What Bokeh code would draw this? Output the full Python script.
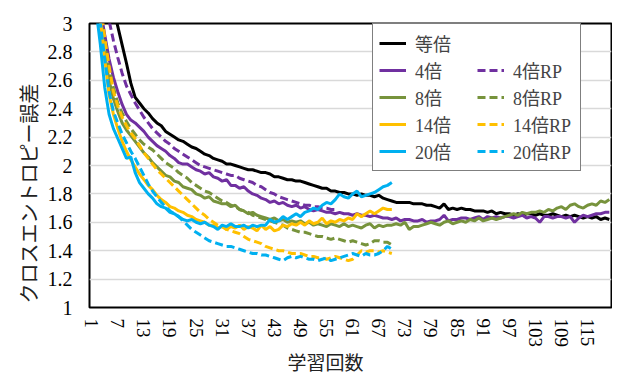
from bokeh.plotting import figure
from bokeh.models import Range1d, FixedTicker, CustomJSTickFormatter, Legend, LegendItem, Title
from bokeh.embed import file_html
from bokeh.resources import INLINE

# ---------------- data ----------------
x_tick_labels = [1, 7, 13, 19, 25, 31, 37, 43, 49, 55, 61, 67, 73, 79, 85, 91, 97, 103, 109, 115]
y_tick_labels = ["1", "1.2", "1.4", "1.6", "1.8", "2", "2.2", "2.4", "2.6", "2.8", "3"]

series_names = ["等倍", "4倍", "8倍", "14倍", "20倍", "4倍RP", "8倍RP", "14倍RP", "20倍RP"]

base_1x = [4.6, 4.1, 3.75, 3.45, 3.25, 3.1, 2.98, 2.85, 2.72, 2.58,
           2.48, 2.44, 2.40, 2.37, 2.33, 2.30, 2.28, 2.24, 2.22, 2.20,
           2.18, 2.17, 2.15, 2.13, 2.12, 2.10, 2.08, 2.07, 2.05, 2.04,
           2.03, 2.01, 2.01, 2.00, 1.99, 1.98, 1.97, 1.97, 1.96, 1.95,
           1.95, 1.94, 1.92, 1.92, 1.91, 1.90, 1.90, 1.89, 1.89, 1.88,
           1.87, 1.86, 1.85, 1.84, 1.84, 1.82, 1.82, 1.81, 1.81, 1.80,
           1.80, 1.79, 1.80, 1.79, 1.79, 1.78, 1.79, 1.77, 1.76, 1.75,
           1.74, 1.74, 1.74, 1.74, 1.73, 1.73, 1.73, 1.72, 1.72, 1.71,
           1.70, 1.73, 1.69, 1.70, 1.69, 1.70, 1.69, 1.69, 1.68, 1.68,
           1.68, 1.67, 1.68, 1.66, 1.67, 1.66, 1.66, 1.65, 1.66, 1.65,
           1.66, 1.66, 1.65, 1.66, 1.65, 1.65, 1.66, 1.65, 1.64, 1.65,
           1.64, 1.65, 1.64, 1.63, 1.64, 1.63, 1.64, 1.62, 1.63, 1.62]

up_4x = [3.9, 3.4, 3.1, 2.92, 2.75, 2.62, 2.52, 2.43, 2.36, 2.32,
         2.30, 2.27, 2.24, 2.20, 2.17, 2.14, 2.12, 2.10, 2.07, 2.05,
         2.02, 2.01, 2.01, 1.99, 1.97, 1.96, 1.94, 1.95, 1.92, 1.91,
         1.89, 1.90, 1.86, 1.86, 1.84, 1.85, 1.82, 1.80, 1.79, 1.77,
         1.76, 1.74, 1.75, 1.73, 1.74, 1.72, 1.71, 1.72, 1.70, 1.71,
         1.69, 1.68, 1.69, 1.68, 1.67, 1.67, 1.66, 1.67, 1.66, 1.66,
         1.65, 1.66, 1.65, 1.65, 1.64, 1.65, 1.64, 1.63, 1.63, 1.62,
         1.63, 1.61, 1.62, 1.62, 1.61, 1.61, 1.62, 1.60, 1.61, 1.61,
         1.62, 1.65, 1.61, 1.62, 1.62, 1.63, 1.63, 1.62, 1.63, 1.64,
         1.62, 1.64, 1.63, 1.64, 1.63, 1.64, 1.64, 1.63, 1.64, 1.65,
         1.63, 1.64, 1.63, 1.60, 1.64, 1.64, 1.63, 1.64, 1.64, 1.63,
         1.64, 1.60, 1.63, 1.65, 1.64, 1.65, 1.66, 1.66, 1.67, 1.67]

up_8x = [3.8, 3.3, 3.0, 2.78, 2.6, 2.47, 2.38, 2.30, 2.25, 2.21,
         2.17, 2.13, 2.09, 2.06, 2.02, 1.99, 1.96, 1.93, 1.92, 1.89,
         1.88, 1.85, 1.84, 1.83, 1.80, 1.79, 1.77, 1.78, 1.75, 1.74,
         1.73, 1.73, 1.71, 1.72, 1.69, 1.68, 1.66, 1.67, 1.65, 1.64,
         1.63, 1.62, 1.63, 1.61, 1.62, 1.60, 1.61, 1.60, 1.61, 1.59,
         1.60, 1.58, 1.59, 1.58, 1.57, 1.59, 1.58, 1.57, 1.59, 1.57,
         1.58, 1.57, 1.56, 1.58, 1.59, 1.56, 1.58, 1.57, 1.58, 1.58,
         1.59, 1.58, 1.60, 1.55, 1.57, 1.57, 1.58, 1.59, 1.60, 1.59,
         1.58, 1.60, 1.61, 1.59, 1.60, 1.61, 1.60, 1.62, 1.61, 1.63,
         1.61, 1.62, 1.63, 1.62, 1.63, 1.64, 1.65, 1.66, 1.65, 1.67,
         1.66, 1.67, 1.67, 1.68, 1.67, 1.69, 1.68, 1.70, 1.71, 1.69,
         1.72, 1.73, 1.71, 1.70, 1.72, 1.73, 1.72, 1.75, 1.74, 1.76]

up_14x = [3.6, 3.2, 3.03, 2.75, 2.5, 2.36, 2.26, 2.17, 2.10, 2.04,
          1.99, 1.94, 1.90, 1.86, 1.83, 1.79, 1.76, 1.74, 1.71, 1.70,
          1.68, 1.67, 1.65, 1.64, 1.62, 1.61, 1.60, 1.58, 1.58, 1.56,
          1.57, 1.55, 1.57, 1.56, 1.58, 1.55, 1.57, 1.56, 1.54, 1.58,
          1.55, 1.57, 1.54, 1.55, 1.58, 1.57, 1.59, 1.58, 1.60, 1.58,
          1.61, 1.59, 1.60, 1.63, 1.59, 1.61, 1.60, 1.62, 1.61, 1.63,
          1.62, 1.66, 1.64, 1.66, 1.68, 1.66, 1.68, 1.70, 1.69, 1.69]

up_20x = [3.5, 3.1, 2.85, 2.55, 2.36, 2.26, 2.19, 2.12, 2.05, 2.06,
          1.95, 1.88, 1.84, 1.80, 1.77, 1.73, 1.71, 1.70, 1.67, 1.66,
          1.64, 1.62, 1.61, 1.62, 1.60, 1.59, 1.60, 1.58, 1.57, 1.55,
          1.58, 1.57, 1.59, 1.57, 1.57, 1.58, 1.56, 1.58, 1.57, 1.58,
          1.58, 1.62, 1.60, 1.61, 1.64, 1.62, 1.64, 1.66, 1.64, 1.67,
          1.68, 1.70, 1.69, 1.72, 1.74, 1.73, 1.76, 1.80, 1.78, 1.77,
          1.80, 1.82, 1.78, 1.79, 1.80, 1.81, 1.83, 1.85, 1.86, 1.88]

rp_4x = [4.1, 3.7, 3.35, 3.12, 3.02, 2.88, 2.76, 2.65, 2.56, 2.50,
         2.44, 2.39, 2.34, 2.30, 2.26, 2.23, 2.20, 2.17, 2.15, 2.12,
         2.10, 2.08, 2.06, 2.04, 2.02, 2.00, 1.99, 1.98, 1.97, 1.96,
         1.95, 1.94, 1.93, 1.93, 1.91, 1.90, 1.89, 1.88, 1.86, 1.85,
         1.83, 1.81, 1.80, 1.78, 1.77, 1.76, 1.75, 1.74, 1.73, 1.72,
         1.72, 1.71, 1.71, 1.70, 1.70, 1.69, 1.69]

rp_8x = [3.9, 3.4, 3.05, 2.85, 2.68, 2.55, 2.44, 2.37, 2.31, 2.26,
         2.22, 2.18, 2.15, 2.13, 2.11, 2.08, 2.05, 2.02, 2.00, 1.98,
         1.95, 1.93, 1.91, 1.88, 1.86, 1.84, 1.82, 1.81, 1.79, 1.77,
         1.75, 1.74, 1.72, 1.71, 1.69, 1.68, 1.67, 1.65, 1.64, 1.63,
         1.62, 1.61, 1.60, 1.59, 1.58, 1.56, 1.55, 1.54, 1.53, 1.53,
         1.52, 1.51, 1.50, 1.50, 1.49, 1.48, 1.49, 1.48, 1.47, 1.46,
         1.47, 1.46, 1.45, 1.44, 1.45, 1.47, 1.47, 1.46, 1.46, 1.44]

rp_14x = [3.8, 3.4, 3.15, 2.9, 2.7, 2.52, 2.42, 2.34, 2.28, 2.23,
          2.19, 2.14, 2.09, 2.05, 2.01, 1.97, 1.94, 1.91, 1.88, 1.85,
          1.82, 1.79, 1.76, 1.73, 1.70, 1.67, 1.65, 1.62, 1.60, 1.58,
          1.57, 1.55, 1.54, 1.53, 1.52, 1.50, 1.48, 1.47, 1.46, 1.45,
          1.43, 1.42, 1.41, 1.40, 1.40, 1.39, 1.38, 1.38, 1.38, 1.37,
          1.36, 1.36, 1.35, 1.35, 1.34, 1.35, 1.36, 1.35, 1.34, 1.33,
          1.34, 1.37, 1.40, 1.39, 1.40, 1.40, 1.39, 1.40, 1.39, 1.38]

rp_20x = [3.7, 3.3, 3.0, 2.75, 2.52, 2.38, 2.30, 2.22, 2.16, 2.10,
          2.05, 1.99, 1.93, 1.87, 1.82, 1.78, 1.74, 1.71, 1.68, 1.66,
          1.64, 1.61, 1.58, 1.55, 1.53, 1.51, 1.49, 1.47, 1.46, 1.45,
          1.44, 1.43, 1.43, 1.42, 1.41, 1.40, 1.39, 1.38, 1.38, 1.37,
          1.37, 1.36, 1.35, 1.34, 1.33, 1.35, 1.36, 1.35, 1.36, 1.35,
          1.34, 1.34, 1.33, 1.34, 1.35, 1.33, 1.34, 1.35, 1.36, 1.37,
          1.38, 1.37, 1.36, 1.38, 1.37, 1.37, 1.38, 1.40, 1.43, 1.41]

# ---------------- styling ----------------
SERIF = "'Liberation Serif', 'Noto Sans CJK JP'"
COL_BLACK = "#000000"
COL_PURPLE = "#7030A0"
COL_GREEN = "#77933C"
COL_YELLOW = "#FFC000"
COL_CYAN = "#00B0F0"
LW = 3
DASH = "8 4"

p = figure(width=612, height=373, output_backend="svg", toolbar_location=None,
           x_range=Range1d(0.5, 120.5), y_range=Range1d(1, 3),
           min_border_left=89, min_border_right=1, min_border_top=23, min_border_bottom=61)

p.background_fill_color = "white"
p.border_fill_color = "white"
p.outline_line_color = "black"
p.outline_line_width = 2

p.xgrid.grid_line_color = None
p.ygrid.grid_line_color = "#d9d9d9"
p.ygrid.grid_line_width = 1.5

y_ticks = [float(s) for s in y_tick_labels]
p.yaxis.ticker = FixedTicker(ticks=y_ticks)
p.yaxis.formatter = CustomJSTickFormatter(code="return String(Number(tick.toFixed(1)));")
p.xaxis.ticker = FixedTicker(ticks=x_tick_labels)
p.xaxis.major_label_orientation = "vertical"

for ax in (p.xaxis, p.yaxis):
    ax.axis_line_color = None
    ax.major_tick_line_color = None
    ax.minor_tick_line_color = None
    ax.major_tick_out = 0
    ax.major_tick_in = 0
    ax.minor_tick_out = 0
    ax.minor_tick_in = 0
    ax.major_label_text_font = SERIF
    ax.major_label_text_color = "black"
p.yaxis.major_label_text_font_size = "20px"
p.xaxis.major_label_text_font_size = "19px"
p.yaxis.major_label_standoff = 17
p.xaxis.major_label_standoff = 11


def xs(vals):
    return list(range(1, len(vals) + 1))


r_blank = p.line([1], [0], line_alpha=0)
r_1x = p.line(xs(base_1x), base_1x, line_color=COL_BLACK, line_width=LW)
r_4x = p.line(xs(up_4x), up_4x, line_color=COL_PURPLE, line_width=LW)
r_8x = p.line(xs(up_8x), up_8x, line_color=COL_GREEN, line_width=LW)
r_4rp = p.line(xs(rp_4x), rp_4x, line_color=COL_PURPLE, line_width=LW, line_dash=DASH)
r_8rp = p.line(xs(rp_8x), rp_8x, line_color=COL_GREEN, line_width=LW, line_dash=DASH)
r_14x = p.line(xs(up_14x), up_14x, line_color=COL_YELLOW, line_width=LW)
r_14rp = p.line(xs(rp_14x), rp_14x, line_color=COL_YELLOW, line_width=LW, line_dash=DASH)
r_20x = p.line(xs(up_20x), up_20x, line_color=COL_CYAN, line_width=LW)
r_20rp = p.line(xs(rp_20x), rp_20x, line_color=COL_CYAN, line_width=LW, line_dash=DASH)

# column-major order: left column, then right column
items = [
    LegendItem(label=series_names[0], renderers=[r_1x]),
    LegendItem(label=series_names[1], renderers=[r_4x]),
    LegendItem(label=series_names[2], renderers=[r_8x]),
    LegendItem(label=series_names[3], renderers=[r_14x]),
    LegendItem(label=series_names[4], renderers=[r_20x]),
    LegendItem(label=" ", renderers=[r_blank]),
    LegendItem(label=series_names[5], renderers=[r_4rp]),
    LegendItem(label=series_names[6], renderers=[r_8rp]),
    LegendItem(label=series_names[7], renderers=[r_14rp]),
    LegendItem(label=series_names[8], renderers=[r_20rp]),
]
legend = Legend(items=items, ncols=2, location=(283, 136),
                label_text_font=SERIF, label_text_font_size="18px",
                label_height=20, label_width=61, glyph_height=20, glyph_width=27,
                label_standoff=9, spacing=1, padding=6, margin=0,
                border_line_color="black", border_line_width=1.5,
                background_fill_color="white", background_fill_alpha=1)
p.add_layout(legend, "center")

ytitle = Title(text="クロスエントロピー誤差", align="left", offset=4, standoff=8,
               text_font=SERIF, text_font_size="20px", text_font_style="normal",
               text_color="#222222")
xtitle = Title(text="学習回数", align="left", offset=198, standoff=0,
               text_font=SERIF, text_font_size="19px", text_font_style="normal",
               text_color="#222222")
p.add_layout(ytitle, "left")
p.add_layout(xtitle, "below")

open("out.html", "w").write(file_html(p, INLINE))
